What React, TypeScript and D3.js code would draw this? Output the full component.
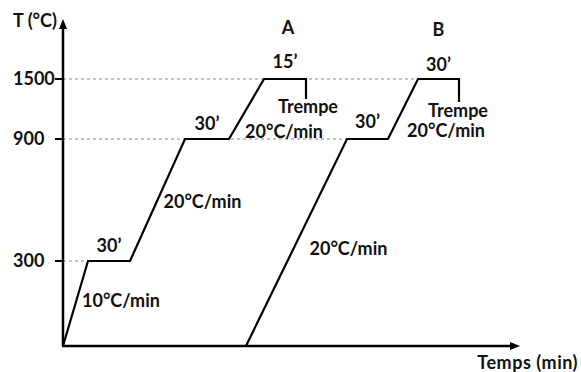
import React from 'react';
import * as d3 from 'd3';

// schematic time units (no scale printed on the time axis)
const timeA = [0, 25, 67, 122, 166, 201, 243, 243];
const tempA = [0, 300, 300, 900, 900, 1500, 1500, 1300];
const timeB = [183, 284, 325, 355, 396, 396];
const tempB = [0, 900, 900, 1500, 1500, 1270];
const tempTicks = [300, 900, 1500];
const tempRange = [0, ...tempTicks];
const timeMax = 457;

const width = 581;
const height = 372;
const FONT = "Lato, 'Open Sans', sans-serif";

const App: React.FC = () => {
  const x = d3.scaleLinear().domain([0, timeMax]).range([63, 520]);
  // the drawing is a sketch: the temperature axis is piecewise, not linear
  const y = d3.scaleLinear().domain(tempRange).range([346, 261, 139, 79]);

  const line = d3.line<[number, number]>()
    .x(d => x(d[0]))
    .y(d => y(d[1]));

  const ptsA: [number, number][] = timeA.map((t, i) => [t, tempA[i]]);
  const ptsB: [number, number][] = timeB.map((t, i) => [t, tempB[i]]);

  // dashed guide runs out to the furthest point where a curve first reaches the level
  const firstReach = (pts: [number, number][], T: number) => {
    const p = pts.find(d => d[1] === T);
    return p ? p[0] : 0;
  };
  const guideEnd = (T: number) => Math.max(firstReach(ptsA, T), firstReach(ptsB, T));

  const mid = (a: [number, number], b: [number, number]) => [(x(a[0]) + x(b[0])) / 2, (y(a[1]) + y(b[1])) / 2];

  const lbl = { fontFamily: FONT, fontWeight: 700, fontSize: 18, fill: '#111' } as const;

  const a1 = mid(ptsA[1], ptsA[2]);
  const a2 = mid(ptsA[2], ptsA[3]);
  const a3 = mid(ptsA[3], ptsA[4]);
  const a5 = mid(ptsA[5], ptsA[6]);
  const b0 = mid(ptsB[0], ptsB[1]);
  const b1 = mid(ptsB[1], ptsB[2]);
  const b3 = mid(ptsB[3], ptsB[4]);
  const qA = x(timeA[timeA.length - 1]);
  const qB = x(timeB[timeB.length - 1]);

  return (
    <div style={{ position: 'absolute', left: 0, top: 0 }}>
      <svg width={width} height={height} style={{ display: 'block', background: '#fff' }}>
        {/* guides */}
        {tempTicks.map(T => (
          <line key={'g' + T} x1={x(0)} x2={x(guideEnd(T))} y1={y(T)} y2={y(T)}
            stroke="#888" strokeWidth={1.2} strokeDasharray="3,3" />
        ))}

        {/* axes */}
        <line x1={x(0)} y1={y(0)} x2={x(0)} y2={27} stroke="#000" strokeWidth={2.5} />
        <path d={`M${x(0)},19 L${x(0) - 4},29 L${x(0) + 4},29 Z`} fill="#000" />
        <line x1={x(0) - 1} y1={y(0)} x2={x(timeMax) - 8} y2={y(0)} stroke="#000" strokeWidth={2.5} />
        <path d={`M${x(timeMax)},${y(0)} L${x(timeMax) - 10},${y(0) - 4} L${x(timeMax) - 10},${y(0) + 4} Z`} fill="#000" />

        {tempTicks.map(T => (
          <g key={'t' + T}>
            <line x1={x(0) - 8} x2={x(0)} y1={y(T)} y2={y(T)} stroke="#000" strokeWidth={2} />
            <text x={13} y={y(T)} dy="0.36em" style={lbl}>{T}</text>
          </g>
        ))}
        <text x={13} y={27} style={lbl}>T (°C)</text>
        <text x={578} y={369} textAnchor="end" style={{ ...lbl, letterSpacing: 0.5 }}>Temps (min)</text>

        {/* cycles */}
        <path d={line(ptsA) ?? ''} fill="none" stroke="#000" strokeWidth={2.2} strokeLinejoin="miter" />
        <path d={line(ptsB) ?? ''} fill="none" stroke="#000" strokeWidth={2.2} strokeLinejoin="miter" />

        {/* cycle A labels */}
        <text x={a1[0]} y={y(300) - 9} textAnchor="middle" style={lbl}>30’</text>
        <text x={x(timeA[1]) - 6} y={y(300) + 46} style={lbl}>10°C/min</text>
        <text x={a2[0] + 6} y={a2[1] + 8} style={lbl}>20°C/min</text>
        <text x={a3[0]} y={y(900) - 9} textAnchor="middle" style={lbl}>30’</text>
        <text x={a5[0]} y={y(1500) - 11} textAnchor="middle" style={lbl}>15’</text>
        <text x={a5[0] + 3} y={y(1500) - 45} textAnchor="middle" style={lbl}>A</text>
        <text x={qA + 2} y={y(1500) + 34} textAnchor="middle" style={lbl}>Trempe</text>
        <text x={qA - 22} y={y(900) - 1} textAnchor="middle" style={lbl}>20°C/min</text>

        {/* cycle B labels */}
        <text x={b0[0] + 13} y={b0[1] + 12} style={lbl}>20°C/min</text>
        <text x={b1[0]} y={y(900) - 11} textAnchor="middle" style={lbl}>30’</text>
        <text x={b3[0]} y={y(1500) - 8} textAnchor="middle" style={lbl}>30’</text>
        <text x={b3[0]} y={y(1500) - 43} textAnchor="middle" style={lbl}>B</text>
        <text x={qB - 1} y={y(1500) + 38} textAnchor="middle" style={lbl}>Trempe</text>
        <text x={qB - 13} y={y(900) - 2} textAnchor="middle" style={lbl}>20°C/min</text>
      </svg>
    </div>
  );
};

export default App;
